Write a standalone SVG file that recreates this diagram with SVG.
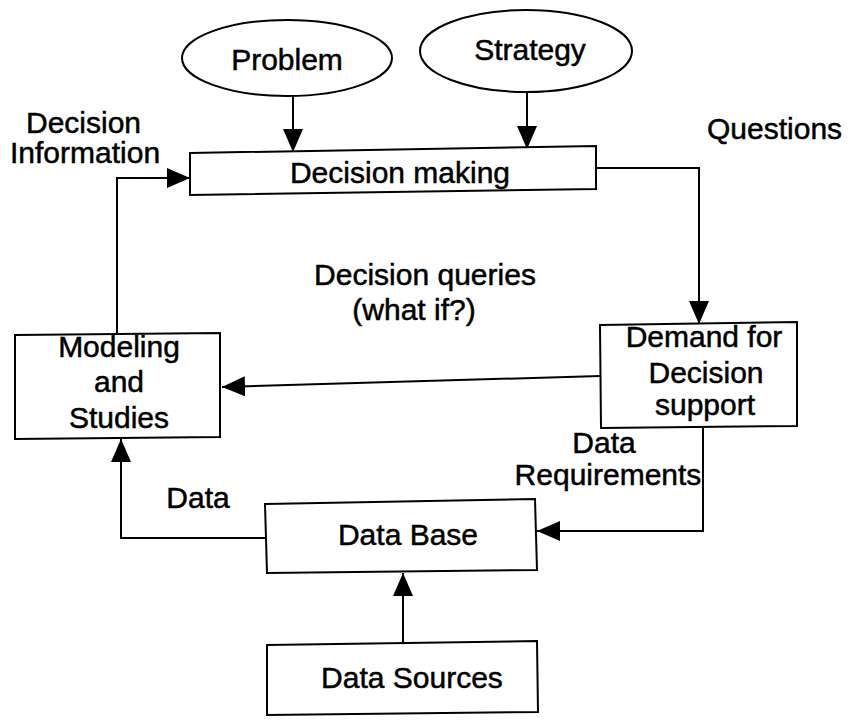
<svg xmlns="http://www.w3.org/2000/svg" width="850" height="723" viewBox="0 0 850 723">
<style>
.t{font-family:"Liberation Sans",Arial,sans-serif;font-size:30px;fill:#000;stroke:#000;stroke-width:0.5;text-anchor:middle}
.s{text-anchor:start}
.box{fill:#fff;stroke:#000;stroke-width:2}
.ln{fill:none;stroke:#000;stroke-width:2;marker-end:url(#ah)}
</style>
<defs>
<marker id="ah" markerUnits="userSpaceOnUse" markerWidth="26" markerHeight="22" refX="23" refY="10" orient="auto">
<path d="M0,0 L23,10 L0,20 z" fill="#000"/>
</marker>
</defs>
<rect width="850" height="723" fill="#fff"/>
<g id="connectors">
<path class="ln" d="M293,96 V152"/>
<path class="ln" d="M527,92 V149"/>
<path class="ln" d="M596,168 H699 V324"/>
<path class="ln" d="M117,334 V178 H190"/>
<path class="ln" d="M600,376 L222,387"/>
<path class="ln" d="M703,428 V531 H537"/>
<path class="ln" d="M265,538 H121 V439"/>
<path class="ln" d="M403,643 V573"/>
</g>
<g id="problem">
<ellipse class="box" cx="287" cy="58" rx="105" ry="38"/>
<text class="t" x="287" y="70">Problem</text>
</g>
<g id="strategy">
<ellipse class="box" cx="526" cy="51" rx="106" ry="41"/>
<text class="t" x="530" y="60">Strategy</text>
</g>
<g id="decision-making">
<polygon class="box" points="190,153 596,146 596,189 190,195"/>
<text class="t" x="400" y="183">Decision making</text>
</g>
<g id="label-decision-information">
<text class="t s" x="26" y="133">Decision</text>
<text class="t s" x="10" y="163">Information</text>
</g>
<g id="label-questions">
<text class="t s" x="707" y="139">Questions</text>
</g>
<g id="label-decision-queries">
<text class="t" x="425" y="285">Decision queries</text>
<text class="t" x="414" y="320">(what if?)</text>
</g>
<g id="modeling">
<polygon class="box" points="15,335 220,333 220,437 15,439"/>
<text class="t" x="119" y="357">Modeling</text>
<text class="t" x="119" y="392">and</text>
<text class="t" x="119" y="428">Studies</text>
</g>
<g id="demand">
<polygon class="box" points="600,325 797,322 797,426 601,428"/>
<text class="t" x="704" y="347">Demand for</text>
<text class="t" x="706" y="383">Decision</text>
<text class="t" x="705" y="415">support</text>
</g>
<g id="label-data-requirements">
<text class="t" x="604" y="453">Data</text>
<text class="t" x="608" y="485">Requirements</text>
</g>
<g id="label-data">
<text class="t" x="198" y="508">Data</text>
</g>
<g id="database">
<polygon class="box" points="265,504 535,499 537,570 267,573"/>
<text class="t" x="408" y="545">Data Base</text>
</g>
<g id="datasources">
<polygon class="box" points="267,645 537,641 538,712 267,715"/>
<text class="t" x="412" y="688">Data Sources</text>
</g>
</svg>
